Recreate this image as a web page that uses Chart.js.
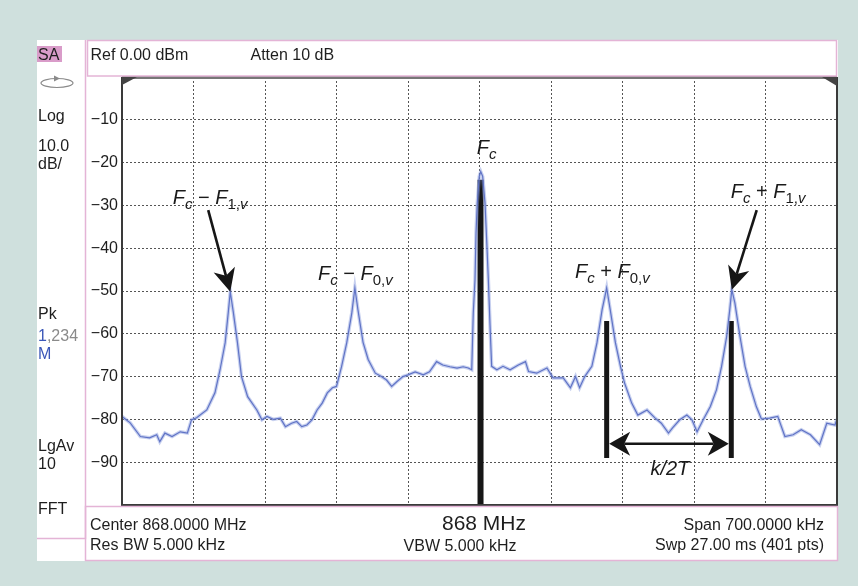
<!DOCTYPE html>
<html>
<head>
<meta charset="utf-8">
<title>Spectrum analyser screen</title>
<script src="https://cdn.jsdelivr.net/npm/chart.js@4.4.1/dist/chart.umd.min.js"></script>
<style>
  html, body { margin: 0; padding: 0; background: #cfe0dd; }
  canvas { display: block; }
</style>
</head>
<body>
<canvas id="spectrum" width="858" height="586"></canvas>
<script>
// Trace: offset from 868 MHz (kHz) and level (dBm)
const freqOffsets = [
  -350, -342, -332, -323, -316, -313, -308, -301, -293, -286,
  -282, -277, -267, -259, -254, -249, -246, -244, -241, -237,
  -233, -227, -218, -213, -208, -202, -195, -190, -184, -179,
  -174, -169, -164, -159, -154, -149, -144, -140, -135, -130,
  -125, -122, -119, -114, -109, -102, -96, -91, -86, -81,
  -75, -70, -63, -55, -49, -42, -36, -29, -22, -16,
  -11, -7.6, -6.1, -4.4, -3.4, -2.2, -0.2, 1.2, 3.1, 5.4,
  7.0, 8.6, 10.3, 11.9, 17, 23, 30, 38, 45, 48,
  56, 66, 72, 82, 89, 94, 98, 103, 110, 115,
  120, 124.5, 128, 133, 138, 142, 149, 155, 164, 172,
  178, 185, 189, 196, 203, 208, 213, 219, 226, 232,
  237, 242, 245, 247, 250, 255, 260, 265, 271, 276,
  284, 292, 299, 307, 315, 324, 333, 340, 348, 350
];
const levels = [
  -79.3, -80.8, -84.0, -84.3, -83.6, -85.2, -83.2, -84.0, -82.9, -83.2,
  -80.1, -79.6, -77.8, -73.8, -68.4, -62.1, -55.1, -50.2, -55.0, -62.0,
  -70.0, -74.7, -77.8, -80.1, -79.3, -80.0, -79.7, -81.7, -80.9, -80.5,
  -81.7, -81.3, -80.1, -77.8, -76.2, -73.8, -72.6, -72.3, -67.6, -62.1,
  -55.1, -49.3, -54.4, -62.0, -66.0, -69.2, -70.0, -70.8, -72.3, -71.2,
  -70.0, -69.6, -68.9, -69.6, -68.9, -66.5, -67.3, -67.7, -68.0, -67.7,
  -68.0, -68.4, -55.2, -47.4, -36.5, -29.5, -23.2, -22.1, -23.2, -29.5,
  -38.0, -47.0, -58.0, -67.6, -68.4, -67.6, -68.4, -67.3, -66.5, -68.8,
  -69.2, -68.0, -70.3, -70.3, -72.6, -70.0, -72.6, -70.0, -67.6, -62.1,
  -54.4, -49.3, -54.4, -62.0, -67.6, -71.5, -76.2, -79.0, -77.8, -79.7,
  -80.9, -83.2, -82.0, -80.1, -79.0, -80.1, -82.9, -80.1, -77.0, -73.1,
  -67.6, -60.6, -54.4, -49.7, -52.8, -60.6, -67.6, -72.3, -77.0, -79.9,
  -79.7, -79.3, -84.0, -83.6, -82.4, -83.6, -85.9, -80.9, -81.3, -79.9
];

// Black marker bars (carrier and the two upper sidebands)
const markerFreqs = [1, 124.5, 246.5];
const markerTops = [-24, -57, -57];
const markerBottoms = [-100, -89, -89];

// Level ticks that carry a label
const levelTicks = [-10, -20, -30, -40, -50, -60, -70, -80, -90];

const FONT = '"Liberation Sans", Arial, Helvetica, sans-serif';
const PINK = '#e4b4d6';

const tracePoints = freqOffsets.map((f, i) => ({ x: f, y: levels[i] }));

const markerSets = markerFreqs.map((f, i) => ({
  data: [{ x: f, y: markerTops[i] }, { x: f, y: markerBottoms[i] }],
  borderColor: '#161616',
  borderWidth: i === 0 ? 6 : 5,
  borderCapStyle: 'butt',
  pointRadius: 0,
  clip: false
}));

// annotation text, placed in data units (left edge / baseline)
const peakLabels = [
  { x: -300.4, y: -29.6, parts: [['F', 'i'], ['c', 'is'], [' \u2212 ', 'n'], ['F', 'i'], ['1,', 'ns'], ['v', 'is']] },
  { x: -158.1, y: -47.4, parts: [['F', 'i'], ['c', 'is'], [' \u2212 ', 'n'], ['F', 'i'], ['0,', 'ns'], ['v', 'is']] },
  { x: -2.7, y: -17.9, parts: [['F', 'i'], ['c', 'is']] },
  { x: 93.5, y: -47.0, parts: [['F', 'i'], ['c', 'is'], [' + ', 'n'], ['F', 'i'], ['0,', 'ns'], ['v', 'is']] },
  { x: 245.9, y: -28.2, parts: [['F', 'i'], ['c', 'is'], [' + ', 'n'], ['F', 'i'], ['1,', 'ns'], ['v', 'is']] }
];

// pointer arrows: start -> tip, in data units
const pointers = [
  { x0: -265.6, y0: -31.1, x1: -244, y1: -50.2 },
  { x0: 271.4, y0: -31.1, x1: 247, y1: -49.7 }
];

function arrowHead(ctx, x0, y0, x1, y1, len, half) {
  const a = Math.atan2(y1 - y0, x1 - x0);
  const c = Math.cos(a), s = Math.sin(a);
  const bx = x1 - len * c, by = y1 - len * s;
  const ix = x1 - len * 0.72 * c, iy = y1 - len * 0.72 * s;
  ctx.beginPath();
  ctx.moveTo(x1, y1);
  ctx.lineTo(bx - half * s, by + half * c);
  ctx.lineTo(ix, iy);
  ctx.lineTo(bx + half * s, by - half * c);
  ctx.closePath();
  ctx.fill();
  return { x: ix, y: iy };
}

function drawParts(ctx, x, y, parts) {
  const styles = {
    i: { font: 'italic 20px ' + FONT, dy: 0 },
    n: { font: '20px ' + FONT, dy: 0 },
    is: { font: 'italic 15px ' + FONT, dy: 5 },
    ns: { font: '15px ' + FONT, dy: 5 }
  };
  let cx = x;
  parts.forEach(([text, kind]) => {
    const st = styles[kind];
    ctx.font = st.font;
    ctx.fillText(text, cx, y + st.dy);
    cx += ctx.measureText(text).width;
  });
}

const screenDecor = {
  id: 'screenDecor',
  beforeDraw(chart) {
    const ctx = chart.ctx;
    const a = chart.chartArea;
    ctx.save();
    ctx.fillStyle = '#cfe0dd';
    ctx.fillRect(0, 0, chart.width, chart.height);
    ctx.fillStyle = '#ffffff';
    ctx.fillRect(37, 40, a.right + 1 - 37, 521);
    ctx.restore();
  },
  afterDatasetsDraw(chart) {
    const ctx = chart.ctx;
    const xs = chart.scales.x, ys = chart.scales.y;
    ctx.save();
    ctx.fillStyle = '#161616';
    ctx.strokeStyle = '#161616';
    ctx.lineWidth = 2.6;

    // sloped pointers to the outer sidebands
    pointers.forEach(p => {
      const x0 = xs.getPixelForValue(p.x0), y0 = ys.getPixelForValue(p.y0);
      const x1 = xs.getPixelForValue(p.x1), y1 = ys.getPixelForValue(p.y1);
      const back = arrowHead(ctx, x0, y0, x1, y1, 23, 11);
      ctx.beginPath();
      ctx.moveTo(x0, y0);
      ctx.lineTo(back.x, back.y);
      ctx.stroke();
    });

    // k/2T double arrow between the sideband markers
    const yArrow = ys.getPixelForValue(-85.7);
    const xl = xs.getPixelForValue(markerFreqs[1]) + 2.5;
    const xr = xs.getPixelForValue(markerFreqs[2]) - 2.5;
    const bl = arrowHead(ctx, xr, yArrow, xl, yArrow, 21, 12);
    const br = arrowHead(ctx, xl, yArrow, xr, yArrow, 21, 12);
    ctx.beginPath();
    ctx.moveTo(bl.x, yArrow);
    ctx.lineTo(br.x, yArrow);
    ctx.stroke();

    ctx.fillStyle = '#1a1a1a';
    ctx.textBaseline = 'alphabetic';
    ctx.textAlign = 'left';
    peakLabels.forEach(l => {
      drawParts(ctx, xs.getPixelForValue(l.x), ys.getPixelForValue(l.y), l.parts);
    });
    ctx.textAlign = 'center';
    ctx.font = 'italic 20px ' + FONT;
    ctx.fillText('k/2T', xs.getPixelForValue(186.5), ys.getPixelForValue(-93.1));
    ctx.restore();
  },
  afterDraw(chart) {
    const ctx = chart.ctx;
    const a = chart.chartArea;
    ctx.save();

    // plot frame
    ctx.strokeStyle = '#777';
    ctx.lineWidth = 3;
    ctx.beginPath();
    ctx.moveTo(a.left, a.top + 0.5);
    ctx.lineTo(a.right, a.top + 0.5);
    ctx.stroke();
    ctx.strokeStyle = '#3a3a3a';
    ctx.lineWidth = 2;
    ctx.beginPath();
    ctx.moveTo(a.left, a.top);
    ctx.lineTo(a.left, a.bottom);
    ctx.lineTo(a.right, a.bottom);
    ctx.lineTo(a.right, a.top);
    ctx.stroke();

    // corner wedges
    ctx.fillStyle = '#444';
    ctx.beginPath();
    ctx.moveTo(a.left, a.top);
    ctx.lineTo(a.left + 15, a.top);
    ctx.lineTo(a.left, a.top + 8);
    ctx.closePath();
    ctx.fill();
    ctx.beginPath();
    ctx.moveTo(a.right, a.top);
    ctx.lineTo(a.right - 15, a.top);
    ctx.lineTo(a.right, a.top + 9);
    ctx.closePath();
    ctx.fill();

    // pink boxes
    ctx.strokeStyle = PINK;
    ctx.lineWidth = 1.5;
    ctx.beginPath();
    ctx.moveTo(85.5, 40);
    ctx.lineTo(85.5, 538.5);
    ctx.lineTo(37, 538.5);
    ctx.stroke();
    ctx.strokeRect(87.5, 40.5, a.right - 88, 35.5);
    ctx.strokeRect(85.5, 506.5, a.right + 1 - 86, 54);

    // sidebar
    ctx.fillStyle = '#d99cc9';
    ctx.fillRect(37, 46, 25, 16);
    ctx.fillStyle = '#1e1e1e';
    ctx.font = '16px ' + FONT;
    ctx.textAlign = 'left';
    ctx.textBaseline = 'alphabetic';
    ctx.fillText('SA', 38, 60);
    [['Log', 121], ['10.0', 151], ['dB/', 169], ['Pk', 319],
     ['LgAv', 451], ['10', 469], ['FFT', 514]].forEach(([t, y]) => ctx.fillText(t, 38, y));
    ctx.fillStyle = '#3b57b8';
    ctx.fillText('1', 38, 341);
    const w1 = ctx.measureText('1').width;
    ctx.fillStyle = '#8a8a8a';
    ctx.fillText(',234', 38 + w1, 341);
    ctx.fillStyle = '#3b57b8';
    ctx.fillText('M', 38, 359);

    // sweep icon
    ctx.strokeStyle = '#8a8a8a';
    ctx.lineWidth = 1.2;
    ctx.beginPath();
    ctx.ellipse(57, 83, 16, 4.5, 0, 0, Math.PI * 2);
    ctx.stroke();
    ctx.fillStyle = '#8a8a8a';
    ctx.beginPath();
    ctx.moveTo(60, 78.5);
    ctx.lineTo(54, 75.5);
    ctx.lineTo(54, 81.5);
    ctx.closePath();
    ctx.fill();

    // header
    ctx.fillStyle = '#1e1e1e';
    ctx.font = '16px ' + FONT;
    ctx.fillText('Ref 0.00 dBm', 90.5, 59.5);
    ctx.fillText('Atten 10 dB', 250.5, 59.5);

    // footer
    ctx.fillText('Center 868.0000 MHz', 90, 530);
    ctx.fillText('Res BW 5.000 kHz', 90, 550);
    ctx.textAlign = 'right';
    ctx.fillText('Span 700.0000 kHz', 824, 530);
    ctx.fillText('Swp 27.00 ms (401 pts)', 824, 550);
    ctx.textAlign = 'center';
    ctx.fillText('VBW 5.000 kHz', 460, 551);
    ctx.font = '21px ' + FONT;
    ctx.fillText('868 MHz', 484, 530);
    ctx.restore();
  }
};

new Chart(document.getElementById('spectrum'), {
  type: 'line',
  data: {
    datasets: [
      {
        data: tracePoints,
        borderColor: 'rgba(130, 150, 220, 0.45)',
        borderWidth: 3.5,
        pointRadius: 0,
        tension: 0
      },
      {
        data: tracePoints,
        borderColor: '#4457b4',
        borderWidth: 1.2,
        pointRadius: 0,
        tension: 0
      },
      ...markerSets
    ]
  },
  options: {
    responsive: false,
    animation: false,
    devicePixelRatio: 1,
    layout: { padding: { left: 82, top: 77, right: 21, bottom: 81 } },
    plugins: { legend: { display: false }, tooltip: { enabled: false } },
    scales: {
      x: {
        type: 'linear',
        min: -350,
        max: 350,
        ticks: { display: false, stepSize: 70 },
        grid: { color: '#555', lineWidth: 1, drawTicks: false },
        border: { display: false, dash: [2, 2] },
        afterFit(scale) { scale.height = 0; }
      },
      y: {
        min: -100,
        max: 0,
        ticks: {
          stepSize: 10,
          padding: 4,
          color: '#1e1e1e',
          font: { family: FONT, size: 16 },
          callback: v => levelTicks.includes(v) ? '\u2212' + Math.abs(v) : ''
        },
        grid: { color: '#555', lineWidth: 1, drawTicks: false },
        border: { display: false, dash: [2, 2] },
        afterFit(scale) { scale.width = 40; }
      }
    }
  },
  plugins: [screenDecor]
});
</script>
</body>
</html>
